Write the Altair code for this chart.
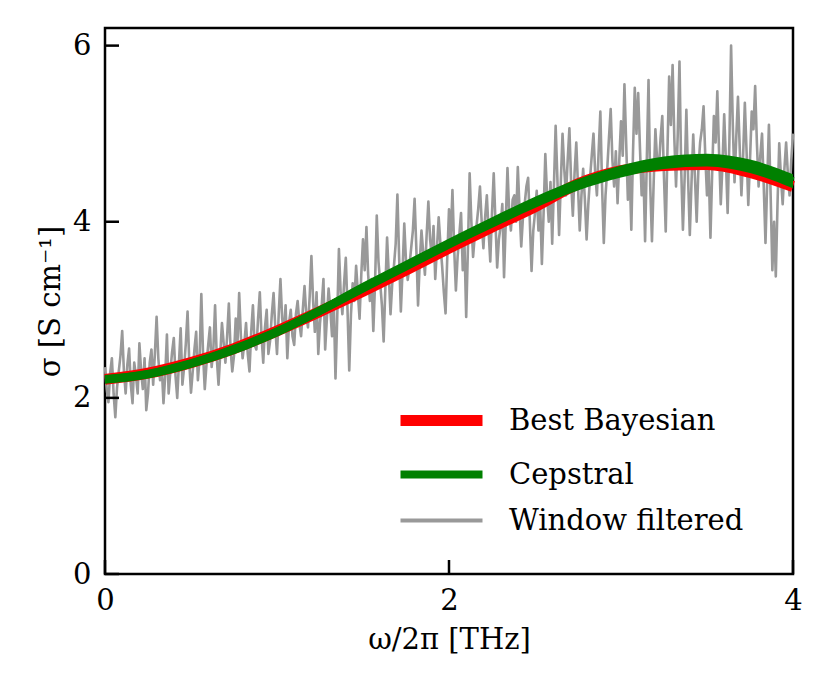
import altair as alt
import pandas as pd
import numpy as np

# smooth curves, sampled every 0.25 THz
x_curve = [0.0, 0.25, 0.5, 0.75, 1.0, 1.25, 1.5, 1.75, 2.0, 2.25, 2.5, 2.75, 3.0, 3.25, 3.5, 3.75, 4.0]
best_bayesian = [2.21, 2.28, 2.40, 2.56, 2.76, 2.98, 3.21, 3.45, 3.70, 3.94, 4.17, 4.43, 4.58, 4.64, 4.65, 4.56, 4.40]
cepstral = [2.21, 2.27, 2.39, 2.55, 2.75, 2.99, 3.25, 3.50, 3.75, 3.99, 4.22, 4.42, 4.57, 4.67, 4.70, 4.63, 4.46]
cepstral_err = [0.05, 0.05, 0.05, 0.055, 0.055, 0.055, 0.06, 0.06, 0.06, 0.062, 0.064, 0.066, 0.068, 0.07, 0.072, 0.076, 0.08]

# window filtered spectrum, sampled every 0.01 THz (one row = 0.2 THz)
x_window = [round(v, 2) for v in np.arange(0, 4.0001, 0.01)]
window_filtered = [
    2.35, 2.10, 1.95, 2.28, 2.45, 2.05, 1.78, 2.12, 2.30, 2.48, 2.76, 2.30, 2.05, 2.38, 2.56, 2.15, 1.94, 2.40, 2.25, 2.05,
    2.62, 2.30, 2.10, 2.45, 1.86, 2.05, 2.40, 2.55, 2.15, 2.50, 2.92, 2.45, 2.20, 2.35, 1.94, 2.25, 2.72, 2.05, 2.30, 2.52,
    2.68, 2.25, 2.00, 2.40, 2.79, 2.15, 2.35, 2.62, 2.98, 2.40, 2.06, 2.30, 2.55, 2.75, 2.20, 2.45, 3.18, 2.50, 2.10, 2.38,
    2.60, 2.80, 2.35, 2.55, 3.05, 2.45, 2.15, 2.50, 2.85, 2.62, 2.40, 2.70, 3.07, 2.55, 2.30, 2.48, 2.90, 2.60, 3.19, 2.70,
    2.45, 2.62, 2.85, 2.50, 2.30, 2.75, 3.05, 2.60, 2.55, 2.90, 3.20, 2.70, 2.40, 2.80, 3.00, 2.50, 2.65, 2.95, 3.19, 2.80,
    2.50, 2.95, 3.35, 2.90, 2.75, 3.05, 2.45, 2.85, 3.00, 2.70, 2.60, 2.95, 3.10, 2.85, 2.70, 3.00, 3.27, 2.95, 2.80, 3.15,
    3.61, 3.10, 2.75, 3.20, 2.50, 2.85, 3.05, 3.35, 2.55, 2.90, 3.24, 3.00, 2.70, 3.10, 2.22, 2.90, 3.69, 3.20, 2.95, 3.30,
    3.59, 3.00, 2.31, 2.95, 3.30, 3.10, 3.50, 3.20, 2.90, 3.40, 3.80, 3.45, 3.94, 3.40, 3.10, 3.35, 2.76, 3.30, 4.07, 3.55,
    3.30, 3.05, 2.64, 3.25, 3.82, 3.40, 2.95, 3.30, 3.50, 3.75, 4.31, 3.60, 2.98, 3.45, 3.98, 3.55, 3.34, 3.50, 3.70, 3.90,
    4.26, 3.70, 3.05, 3.55, 3.90, 3.65, 3.40, 3.85, 4.23, 3.80, 3.60, 3.95, 3.35, 3.70, 4.05, 3.75, 3.50, 3.20, 2.96, 3.60,
    4.14, 3.80, 4.36, 3.70, 3.22, 3.60, 3.85, 4.10, 3.45, 3.75, 2.92, 3.70, 4.55, 4.00, 3.60, 3.85, 3.95, 4.15, 4.40, 4.00,
    3.70, 4.05, 4.30, 3.90, 3.55, 4.10, 4.55, 4.00, 3.48, 3.80, 3.95, 4.20, 3.37, 4.00, 4.61, 4.10, 3.90, 4.25, 4.30, 4.00,
    4.62, 4.15, 3.72, 4.05, 4.20, 4.40, 4.50, 4.00, 3.44, 3.90, 4.10, 4.35, 3.90, 4.20, 3.52, 4.10, 4.77, 4.30, 4.00, 4.45,
    3.75, 4.40, 5.09, 4.50, 3.85, 4.45, 5.00, 4.60, 4.30, 4.70, 5.06, 4.45, 4.07, 4.55, 4.90, 4.40, 3.90, 4.30, 4.60, 4.25,
    3.80, 4.20, 4.50, 4.75, 5.00, 4.55, 4.30, 4.80, 5.25, 4.40, 3.76, 4.30, 4.60, 4.95, 5.28, 4.70, 4.40, 4.80, 4.21, 4.70,
    5.14, 4.75, 5.56, 4.90, 4.25, 4.60, 3.91, 4.80, 5.52, 5.00, 5.46, 4.85, 4.30, 4.60, 3.78, 4.70, 5.61, 4.40, 3.78, 4.45,
    5.05, 4.70, 4.60, 4.95, 5.20, 4.50, 3.89, 4.80, 5.65, 5.10, 5.78, 4.95, 4.40, 5.00, 5.82, 4.60, 3.91, 4.50, 5.27, 4.50,
    3.85, 4.45, 4.99, 4.50, 4.00, 4.60, 4.90, 5.05, 5.31, 4.75, 4.30, 4.60, 3.82, 4.55, 5.20, 4.90, 5.48, 4.80, 4.20, 4.65,
    5.22, 4.70, 4.10, 4.90, 6.00, 5.10, 4.45, 4.95, 5.42, 4.85, 4.30, 4.75, 5.35, 4.80, 4.19, 4.70, 5.25, 5.05, 5.54, 4.90,
    4.40, 4.75, 5.00, 4.40, 3.76, 4.45, 5.10, 4.30, 3.45, 4.00, 3.38, 4.20, 4.89, 4.50, 4.20, 4.60, 4.90, 4.55, 4.30, 4.70,
    5.00,
]

x_ticks = [0, 2, 4]
y_ticks = [0, 2, 4, 6]

series = ["Best Bayesian", "Cepstral", "Window filtered"]
colors = ["#ff0000", "#008000", "#999999"]

df_curve = pd.DataFrame({"x": x_curve, "bayes": best_bayesian, "cep": cepstral, "err": cepstral_err})
df_curve["lo"] = df_curve["cep"] - df_curve["err"]
df_curve["hi"] = df_curve["cep"] + df_curve["err"]
df_bayes = pd.DataFrame({"x": x_curve, "y": best_bayesian, "series": "Best Bayesian"})
df_cep = pd.DataFrame({"x": x_curve, "y": cepstral, "series": "Cepstral"})
df_win = pd.DataFrame({"x": x_window, "y": window_filtered, "series": "Window filtered"})

FONT = "DejaVu Serif"
FS = 29
W, H = 688, 546
TICK = 14

xscale = alt.Scale(domain=[0, 4], nice=False)
yscale = alt.Scale(domain=[0, 6.2], nice=False)

stroke_enc = alt.Stroke(
    "series:N", scale=alt.Scale(domain=series, range=colors),
    legend=alt.Legend(
        title=None, orient="none", legendX=322, legendY=378,
        symbolType="stroke", symbolSize=6724, labelFontSize=FS, labelFont=FONT,
        labelColor="black", rowPadding=15, labelOffset=53, labelLimit=400,
        symbolStrokeWidth=alt.ExprRef(
            expr="datum.value === 'Best Bayesian' ? 11 : (datum.value === 'Cepstral' ? 8 : 4)"),
    ),
)

axis_common = dict(grid=False, domain=False, labelFont=FONT, titleFont=FONT,
                   labelFontSize=FS, titleFontSize=FS, labelColor="black", titleColor="black",
                   titleFontWeight="normal", ticks=False, tickSize=0, labelFlush=False, format="d")

x_enc = alt.X("x:Q", scale=xscale, axis=alt.Axis(values=x_ticks, labelPadding=12,
              title="ω/2π [THz]", titlePadding=10, **axis_common))
y_enc = alt.Y("y:Q", scale=yscale, axis=alt.Axis(values=y_ticks, labelPadding=14,
              title="σ [S cm⁻¹]", titlePadding=7, **axis_common))

gray = alt.Chart(df_win).mark_line(strokeJoin="round", strokeWidth=2.6).encode(
    x=x_enc, y=y_enc, stroke=stroke_enc)
red = alt.Chart(df_bayes).mark_line(interpolate="monotone", strokeWidth=11).encode(
    x=x_enc, y=y_enc, stroke=stroke_enc)
green_band = alt.Chart(df_curve).mark_area(color="#008000", interpolate="monotone").encode(
    x=alt.X("x:Q", scale=xscale),
    y=alt.Y("lo:Q", scale=yscale),
    y2="hi:Q")
green = alt.Chart(df_cep).mark_line(interpolate="monotone", strokeWidth=8).encode(
    x=x_enc, y=y_enc, stroke=stroke_enc)

yt = alt.Chart(pd.DataFrame({"v": y_ticks})).mark_rule(color="black", strokeWidth=2.5).encode(
    y=alt.Y("v:Q", scale=yscale), x=alt.value(0), x2=alt.value(TICK))
xt = alt.Chart(pd.DataFrame({"v": x_ticks})).mark_rule(color="black", strokeWidth=2.5).encode(
    x=alt.X("v:Q", scale=xscale), y=alt.value(H), y2=alt.value(H - TICK))

chart = alt.layer(gray, red, green_band, green, yt, xt).properties(
    width=W, height=H,
    autosize=alt.AutoSizeParams(type="none"),
    padding={"left": 97, "top": 20, "right": 29, "bottom": 100},
).configure(background="white").configure_view(stroke="black", strokeWidth=2.5)

chart.save("out.html", embed_options={"renderer": "svg", "actions": False})
